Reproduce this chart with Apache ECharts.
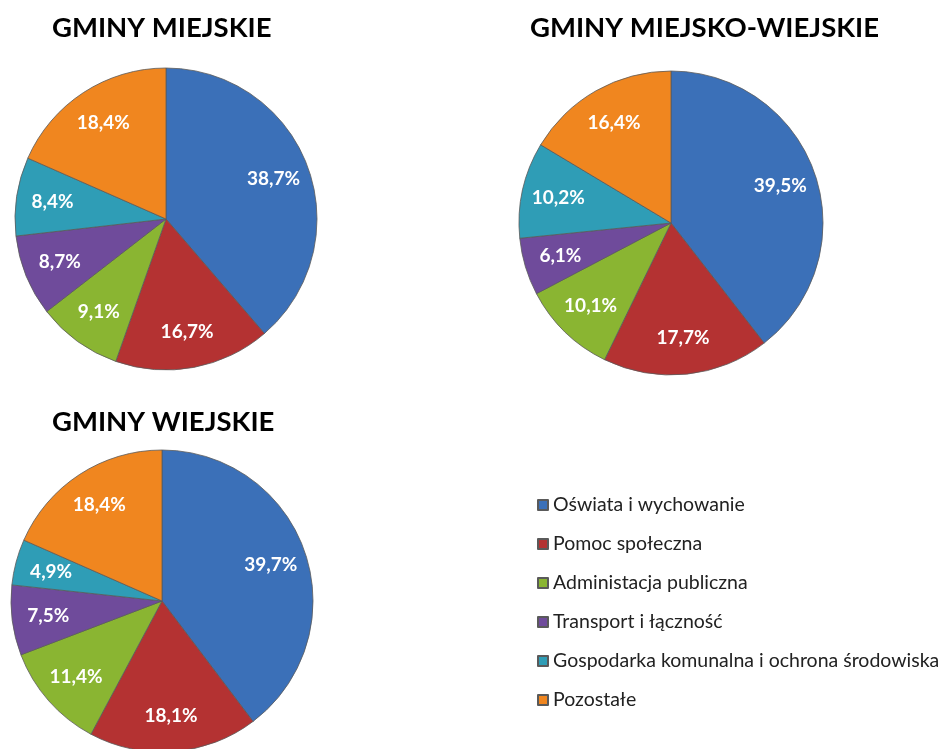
<!DOCTYPE html>
<html lang="pl">
  <head>
    <meta charset="utf-8" />
    <style>
      html, body { margin: 0; padding: 0; background: #fff; }
      #container { width: 949px; height: 749px; }
    </style>
  </head>
  <body>
    <div id="container"></div>
    <script type="text/javascript" src="https://cdn.jsdelivr.net/npm/echarts@6/dist/echarts.min.js"></script>
    <script type="text/javascript">
      var categories = [
        "Oświata i wychowanie",
        "Pomoc społeczna",
        "Administacja publiczna",
        "Transport i łączność",
        "Gospodarka komunalna i ochrona środowiska",
        "Pozostałe",
      ];
      var miejskie = [38.7, 16.7, 9.1, 8.7, 8.4, 18.4];
      var miejskoWiejskie = [39.5, 17.7, 10.1, 6.1, 10.2, 16.4];
      var wiejskie = [39.7, 18.1, 11.4, 7.5, 4.9, 18.4];
      var colors = ["#3b70b8", "#b43232", "#8ab532", "#6f4b9b", "#2f9db6", "#f0861f"];

      var dom = document.getElementById("container");
      var myChart = echarts.init(dom, null, { renderer: "canvas" });

      function toData(values) {
        return values.map(function (v, i) {
          return { name: categories[i], value: v };
        });
      }

      function fmt(p) {
        return p.value.toFixed(1).replace(".", ",") + "%";
      }

      // real slices
      function pieSeries(values, cx, cy, r) {
        return {
          type: "pie",
          center: [cx, cy],
          radius: [0, r],
          startAngle: 90,
          clockwise: true,
          label: { show: false },
          labelLine: { show: false },
          itemStyle: { borderColor: "#5a5a5a", borderWidth: 0.8 },
          data: toData(values),
        };
      }

      // transparent ring just to push labels out towards the rim
      function labelSeries(values, cx, cy, r) {
        return {
          type: "pie",
          center: [cx, cy],
          radius: [r * 0.48, r],
          startAngle: 90,
          silent: true,
          itemStyle: { color: "rgba(0,0,0,0)", borderWidth: 0 },
          label: {
            show: true,
            position: "inside",
            formatter: fmt,
            color: "#fff",
            fontFamily: "Lato",
            fontWeight: "bold",
            fontSize: 19,
          },
          labelLine: { show: false },
          emphasis: { disabled: true },
          data: toData(values),
        };
      }

      var titleStyle = { fontFamily: "Lato", fontWeight: "bold", fontSize: 27.5, color: "#000" };

      var option = {
        animation: false,
        color: colors,
        title: [
          { text: "GMINY MIEJSKIE", left: 52, top: 14, padding: 0, textStyle: titleStyle },
          { text: "GMINY MIEJSKO-WIEJSKIE", left: 530, top: 14, padding: 0, textStyle: titleStyle },
          { text: "GMINY WIEJSKIE", left: 52, top: 408, padding: 0, textStyle: titleStyle },
        ],
        legend: {
          orient: "vertical",
          left: 532,
          top: 490,
          itemWidth: 10,
          itemHeight: 10,
          itemGap: 19,
          icon: "rect",
          data: categories,
          textStyle: { fontFamily: "Lato", fontSize: 19.5, color: "#222" },
          selectedMode: false,
        },
        series: [
          pieSeries(miejskie, 166, 219, 151),
          pieSeries(miejskoWiejskie, 671, 223, 152),
          pieSeries(wiejskie, 162, 601, 151),
          labelSeries(miejskie, 166, 219, 151),
          labelSeries(miejskoWiejskie, 671, 223, 152),
          labelSeries(wiejskie, 162, 601, 151),
        ],
      };

      myChart.setOption(option);
      window.addEventListener("resize", myChart.resize);
    </script>
  </body>
</html>
